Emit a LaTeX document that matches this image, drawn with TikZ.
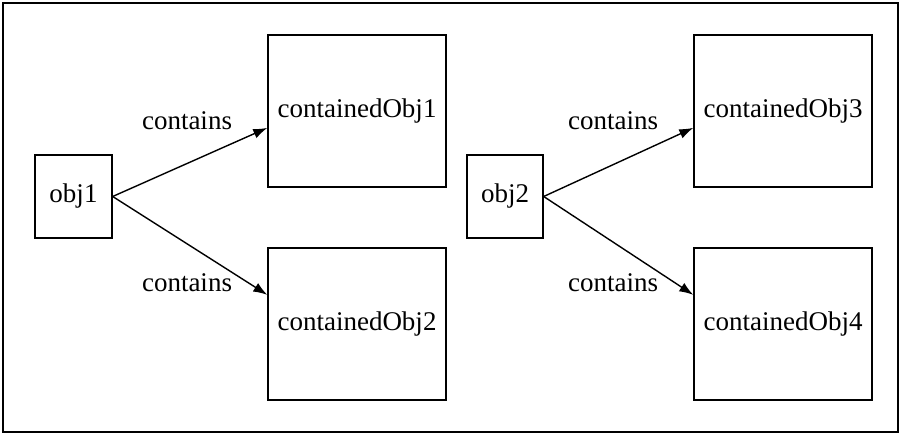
\documentclass[tikz,border=0pt]{standalone}
\usepackage{fontspec}
\setmainfont{Liberation Serif}
\usetikzlibrary{calc,arrows.meta}
\begin{document}
\begin{tikzpicture}[x=1pt,y=-1pt,
  box/.style={draw,line width=1.4pt,inner sep=0pt},
  rel/.style={line width=1.4pt,-{Latex[length=14pt,width=10pt]}},
  font=\fontsize{27}{30}\selectfont]
  \useasboundingbox (0,0) rectangle (902,435);
  \draw[line width=1.4pt] (3,3) rectangle (898,432);

  % left group
  \node[box,minimum width=77,minimum height=83] (obj1) at (73.5,196.5) {obj1};
  \node[box,minimum width=178,minimum height=152] (c1) at (357,111) {containedObj1};
  \node[box,minimum width=178,minimum height=152] (c2) at (357,324) {containedObj2};
  \draw[rel] (obj1.east) -- ($(c1.north west)!0.61!(c1.south west)$);
  \draw[rel] (obj1.east) -- ($(c2.north west)!0.31!(c2.south west)$);
  \node at (187,121) {contains};
  \node at (187,283) {contains};

  % right group
  \node[box,minimum width=76,minimum height=83] (obj2) at (505,196.5) {obj2};
  \node[box,minimum width=178,minimum height=152] (c3) at (783,111) {containedObj3};
  \node[box,minimum width=178,minimum height=152] (c4) at (783,324) {containedObj4};
  \draw[rel] (obj2.east) -- ($(c3.north west)!0.61!(c3.south west)$);
  \draw[rel] (obj2.east) -- ($(c4.north west)!0.31!(c4.south west)$);
  \node at (613,121) {contains};
  \node at (613,283) {contains};
\end{tikzpicture}
\end{document}
